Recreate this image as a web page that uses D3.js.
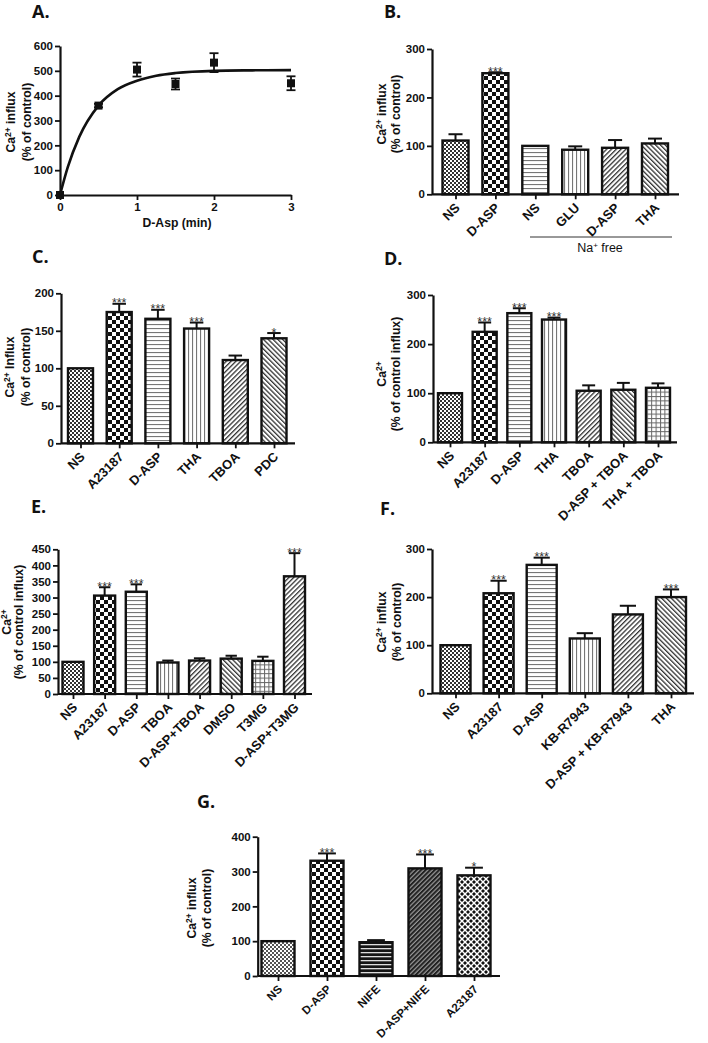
<!DOCTYPE html>
<html><head><meta charset="utf-8">
<script src="https://cdn.jsdelivr.net/npm/d3@7"></script>
<style>
body{margin:0;background:#fff;}
svg{display:block;}
text{font-family:"Liberation Sans",Arial,sans-serif;}
</style></head><body>
<svg id="fig" width="708" height="1043"></svg>
<script>
// ---------------- DATA ----------------
// Panel A: time course
const aTime   = [0, 0.5, 1, 1.5, 2, 3];
const aInflux = [0, 360, 505, 447, 533, 450];
const aSem    = [0, 7, 28, 22, 38, 28];
const aFitTime   = [0, 0.1, 0.25, 0.5, 0.75, 1, 1.25, 1.5, 2, 2.5, 3];
const aFitInflux = [0, 111, 234, 360, 426, 460, 480, 491, 500, 502, 503];
const aXTicks = [0, 1, 2, 3];
const aYTicks = [0, 100, 200, 300, 400, 500, 600];

// Panel B
const bCategories = ["NS", "D-ASP", "NS", "GLU", "D-ASP", "THA"];
const bValues = [111, 250, 100, 92, 96, 105];
const bSem    = [13, 2, 0, 7, 16, 10];
const bStars  = ["", "***", "", "", "", ""];
const bYTicks = [0, 100, 200, 300];

// Panel C
const cCategories = ["NS", "A23187", "D-ASP", "THA", "TBOA", "PDC"];
const cValues = [100, 175, 166, 153, 111, 140];
const cSem    = [0, 11, 12, 8, 6, 7];
const cStars  = ["", "***", "***", "***", "", "*"];
const cYTicks = [0, 50, 100, 150, 200];

// Panel D
const dCategories = ["NS", "A23187", "D-ASP", "THA", "TBOA", "D-ASP + TBOA", "THA + TBOA"];
const dValues = [100, 225, 263, 250, 105, 107, 111];
const dSem    = [0, 19, 10, 4, 11, 14, 9];
const dStars  = ["", "***", "***", "***", "", "", ""];
const dYTicks = [0, 100, 200, 300];

// Panel E
const eCategories = ["NS", "A23187", "D-ASP", "TBOA", "D-ASP+TBOA", "DMSO", "T3MG", "D-ASP+T3MG"];
const eValues = [100, 306, 318, 98, 104, 110, 103, 366];
const eSem    = [0, 26, 23, 6, 7, 9, 13, 72];
const eStars  = ["", "***", "***", "", "", "", "", "***"];
const eYTicks = [0, 50, 100, 150, 200, 250, 300, 350, 400, 450];

// Panel F
const fCategories = ["NS", "A23187", "D-ASP", "KB-R7943", "D-ASP + KB-R7943", "THA"];
const fValues = [100, 208, 267, 114, 164, 200];
const fSem    = [0, 26, 15, 11, 18, 16];
const fStars  = ["", "***", "***", "", "", "***"];
const fYTicks = [0, 100, 200, 300];

// Panel G
const gCategories = ["NS", "D-ASP", "NIFE", "D-ASP+NIFE", "A23187"];
const gValues = [100, 331, 97, 309, 289];
const gSem    = [0, 21, 6, 40, 22];
const gStars  = ["", "***", "", "***", "*"];
const gYTicks = [0, 100, 200, 300, 400];

// ---------------- DRAWING ----------------
const svg = d3.select("#fig");
const INK = "#111";
const TICK_FS = 11.5, CAT_FS = 13, LAB_FS = 12.2, STAR_FS = 12.5;
const defs = svg.append("defs");

function pat(id, w, h, rot) {
  const p = defs.append("pattern").attr("id", id).attr("patternUnits", "userSpaceOnUse")
    .attr("width", w).attr("height", h);
  if (rot) p.attr("patternTransform", `rotate(${rot})`);
  return p;
}
{ const p = pat("dots", 4, 4); p.append("rect").attr("width",4).attr("height",4).attr("fill","#fff");
  p.append("rect").attr("width",2).attr("height",2).attr("fill","#333");
  p.append("rect").attr("x",2).attr("y",2).attr("width",2).attr("height",2).attr("fill","#333"); }
{ const p = pat("dotsG", 4, 4); p.append("rect").attr("width",4).attr("height",4).attr("fill","#fff");
  p.append("rect").attr("width",2).attr("height",2).attr("fill","#555");
  p.append("rect").attr("x",2).attr("y",2).attr("width",2).attr("height",2).attr("fill","#555"); }
{ const p = pat("checker", 8, 8); p.append("rect").attr("width",8).attr("height",8).attr("fill","#fff");
  p.append("rect").attr("width",4).attr("height",4).attr("fill","#111");
  p.append("rect").attr("x",4).attr("y",4).attr("width",4).attr("height",4).attr("fill","#111"); }
{ const p = pat("hlines", 4, 4); p.append("rect").attr("width",4).attr("height",4).attr("fill","#fff");
  p.append("rect").attr("y",0).attr("width",4).attr("height",1.1).attr("fill","#777"); }
{ const p = pat("vlines", 4, 4); p.append("rect").attr("width",4).attr("height",4).attr("fill","#fff");
  p.append("rect").attr("x",0).attr("width",1.1).attr("height",4).attr("fill","#777"); }
{ const p = pat("diagF", 3.4, 3.4, 45); p.append("rect").attr("width",3.4).attr("height",3.4).attr("fill","#fff");
  p.append("rect").attr("width",1.3).attr("height",3.4).attr("fill","#333"); }
{ const p = pat("diagB", 3.4, 3.4, -45); p.append("rect").attr("width",3.4).attr("height",3.4).attr("fill","#fff");
  p.append("rect").attr("width",1.3).attr("height",3.4).attr("fill","#333"); }
{ const p = pat("grid", 4.4, 4.4); p.append("rect").attr("width",4.4).attr("height",4.4).attr("fill","#fff");
  p.append("rect").attr("width",4.4).attr("height",1).attr("fill","#666");
  p.append("rect").attr("width",1).attr("height",4.4).attr("fill","#666"); }
{ const p = pat("hlinesDark", 4, 4); p.append("rect").attr("width",4).attr("height",4).attr("fill","#151515");
  p.append("rect").attr("y",0).attr("width",4).attr("height",1.3).attr("fill","#ddd"); }
{ const p = pat("diagDark", 3.2, 3.2, 45); p.append("rect").attr("width",3.2).attr("height",3.2).attr("fill","#999");
  p.append("rect").attr("width",2).attr("height",3.2).attr("fill","#222"); }
{ const p = pat("diamond", 6, 6); p.append("rect").attr("width",6).attr("height",6).attr("fill","#fff");
  const dia = (cx, cy) => p.append("path").attr("d", `M${cx},${cy-2}L${cx+2},${cy}L${cx},${cy+2}L${cx-2},${cy}Z`).attr("fill","#111");
  dia(0,0); dia(6,0); dia(0,6); dia(6,6); dia(3,3); }

function panelLetter(txt, x, y) {
  svg.append("text").attr("x", x).attr("y", y).text(txt)
    .style("font-family", "'Open Sans', 'Liberation Sans', sans-serif")
    .attr("font-size", 18).attr("font-weight", 700).attr("fill", INK);
}

function yLabel(g, spec) {
  const t1 = g.append("text").attr("transform", `translate(${spec.x1},${spec.cy}) rotate(-90)`)
    .attr("text-anchor", "middle").attr("font-size", LAB_FS).attr("font-weight", 700).attr("fill", INK);
  t1.append("tspan").text(spec.l1[0]);
  t1.append("tspan").attr("dy", -4.5).attr("font-size", 8.5).text(spec.l1[1]);
  if (spec.l1[2]) t1.append("tspan").attr("dy", 4.5).text(spec.l1[2]);
  g.append("text").attr("transform", `translate(${spec.x2},${spec.cy}) rotate(-90)`)
    .attr("text-anchor", "middle").attr("font-size", LAB_FS).attr("font-weight", 700).attr("fill", INK)
    .text(spec.l2);
}

function styleAxis(sel) {
  sel.select(".domain").attr("stroke", INK).attr("stroke-width", 2.2);
  sel.selectAll(".tick line").attr("stroke", INK).attr("stroke-width", 1.8);
  sel.selectAll(".tick text").attr("fill", INK).attr("font-size", TICK_FS).attr("font-weight", 700)
    .style("font-family", "'Liberation Sans', Arial, sans-serif");
}

function barPanel(cfg, cats, values, sem, stars) {
  const g = svg.append("g");
  const y = d3.scaleLinear().domain([0, cfg.max]).range([cfg.y0, cfg.yTop]);
  const x = d3.scalePoint().domain(d3.range(cats.length)).range([cfg.c0, cfg.c1]);
  const bw = cfg.bw;

  const cap = bw * 0.27;
  const eb = g.append("g").attr("stroke", INK).attr("stroke-width", 2);
  values.forEach((v, i) => {
    if (!sem[i]) return;
    const cx = x(i), top = y(v + sem[i]);
    eb.append("line").attr("x1", cx).attr("x2", cx).attr("y1", y(v)).attr("y2", top);
    eb.append("line").attr("x1", cx - cap).attr("x2", cx + cap).attr("y1", top).attr("y2", top);
  });
  g.selectAll("rect.bar").data(values).join("rect").attr("class", "bar")
    .attr("x", (d, i) => x(i) - bw / 2).attr("y", d => y(d))
    .attr("width", bw).attr("height", d => y(0) - y(d))
    .attr("fill", (d, i) => `url(#${cfg.patterns[i]})`)
    .attr("stroke", INK).attr("stroke-width", 2.4);
  g.selectAll("text.star").data(values).join("text").attr("class", "star")
    .attr("x", (d, i) => x(i)).attr("y", (d, i) => y(d + sem[i]) + 3.5)
    .attr("text-anchor", "middle").attr("font-size", STAR_FS).attr("fill", "#333")
    .text((d, i) => stars[i]);

  const ya = g.append("g").attr("transform", `translate(${cfg.x0},0)`)
    .call(d3.axisLeft(y).tickValues(cfg.ticks).tickSize(5).tickPadding(2).tickSizeOuter(0).tickFormat(d3.format("d")));
  styleAxis(ya);
  const xa = g.append("g").attr("transform", `translate(0,${cfg.y0})`)
    .call(d3.axisBottom(x).tickSize(5).tickSizeOuter(0).tickFormat(""));
  xa.select(".domain").attr("d", `M${cfg.x0},0H${cfg.x1}`);
  styleAxis(xa);
  const catFs = cfg.catFs || CAT_FS;
  g.selectAll("text.cat").data(cats).join("text").attr("class", "cat")
    .attr("transform", (d, i) => `translate(${x(i) + 2},${cfg.y0 + 11}) rotate(-45)`)
    .attr("text-anchor", "end").attr("dy", "0.35em")
    .attr("font-size", catFs).attr("font-weight", 700).attr("fill", INK)
    .text(d => d);

  yLabel(g, cfg.ylab);
  return { g, x, y };
}

// ---- Panel A ----
panelLetter("A.", 32, 18);
{
  const g = svg.append("g");
  const x = d3.scaleLinear().domain([0, 3]).range([60, 291]);
  const y = d3.scaleLinear().domain([0, 600]).range([195, 46]);
  const line = d3.line().x((d, i) => x(aFitTime[i])).y(d => y(d)).curve(d3.curveMonotoneX);
  g.append("path").attr("d", line(aFitInflux)).attr("fill", "none").attr("stroke", INK).attr("stroke-width", 2.6);
  const eb = g.append("g").attr("stroke", INK).attr("stroke-width", 1.8);
  aTime.forEach((t, i) => {
    if (!aSem[i]) return;
    const cx = x(t);
    eb.append("line").attr("x1", cx).attr("x2", cx).attr("y1", y(aInflux[i] - aSem[i])).attr("y2", y(aInflux[i] + aSem[i]));
    [aInflux[i] - aSem[i], aInflux[i] + aSem[i]].forEach(v =>
      eb.append("line").attr("x1", cx - 4.5).attr("x2", cx + 4.5).attr("y1", y(v)).attr("y2", y(v)));
  });
  g.selectAll("rect.pt").data(aInflux).join("rect").attr("class", "pt")
    .attr("x", (d, i) => x(aTime[i]) - 4).attr("y", d => y(d) - 4)
    .attr("width", 8).attr("height", 8).attr("fill", INK);
  const ya = g.append("g").attr("transform", "translate(60,0)")
    .call(d3.axisLeft(y).tickValues(aYTicks).tickSize(5).tickPadding(2).tickSizeOuter(0));
  styleAxis(ya);
  const xa = g.append("g").attr("transform", "translate(0,195)")
    .call(d3.axisBottom(x).tickValues(aXTicks).tickSize(5).tickPadding(3).tickSizeOuter(0).tickFormat(d3.format("d")));
  styleAxis(xa);
  g.append("text").attr("x", 177).attr("y", 227).attr("text-anchor", "middle")
    .attr("font-size", LAB_FS).attr("font-weight", 700).attr("fill", INK).text("D-Asp (min)");
  yLabel(g, { x1: 15, x2: 31, cy: 122, l1: ["Ca", "2+", " influx"], l2: "(% of control)" });
}

// ---- Panel B ----
panelLetter("B.", 384, 18);
{
  const p = barPanel({ x0: 432, x1: 679, y0: 194.3, yTop: 49, max: 300, ticks: bYTicks,
    c0: 455.5, c1: 655, bw: 26,
    patterns: ["dots", "checker", "hlines", "vlines", "diagF", "diagB"],
    ylab: { x1: 386, x2: 400, cy: 114, l1: ["Ca", "2+", " influx"], l2: "(% of control)" } },
    bCategories, bValues, bSem, bStars);
  p.g.append("line").attr("x1", 530).attr("x2", 672).attr("y1", 237).attr("y2", 237)
    .attr("stroke", "#333").attr("stroke-width", 1);
  const t = p.g.append("text").attr("x", 600).attr("y", 252).attr("text-anchor", "middle")
    .attr("font-size", 12.5).attr("fill", INK);
  t.append("tspan").text("Na");
  t.append("tspan").attr("dy", -4.5).attr("font-size", 8).text("+");
  t.append("tspan").attr("dy", 4.5).text(" free");
}

// ---- Panel C ----
panelLetter("C.", 32, 263);
barPanel({ x0: 61, x1: 295, y0: 443.3, yTop: 293.3, max: 200, ticks: cYTicks,
  c0: 80.5, c1: 274, bw: 25,
  patterns: ["dots", "checker", "hlines", "vlines", "diagF", "diagB"],
  ylab: { x1: 14, x2: 30, cy: 367, l1: ["Ca", "2+", " Influx"], l2: "(% of control)" } },
  cCategories, cValues, cSem, cStars);

// ---- Panel D ----
panelLetter("D.", 384, 265);
barPanel({ x0: 433, x1: 677, y0: 442.3, yTop: 295, max: 300, ticks: dYTicks,
  c0: 450, c1: 658, bw: 24,
  patterns: ["dots", "checker", "hlines", "vlines", "diagF", "diagB", "grid"],
  ylab: { x1: 386, x2: 400, cy: 374, l1: ["Ca", "2+", ""], l2: "(% of control influx)" } },
  dCategories, dValues, dSem, dStars);

// ---- Panel E ----
panelLetter("E.", 31, 513);
barPanel({ x0: 58, x1: 312, y0: 694, yTop: 549.3, max: 450, ticks: eYTicks,
  c0: 73, c1: 294.5, bw: 21,
  patterns: ["dots", "checker", "hlines", "vlines", "diagF", "diagB", "grid", "diagF"],
  ylab: { x1: 11, x2: 23, cy: 622, l1: ["Ca", "2+", ""], l2: "(% of control influx)" } },
  eCategories, eValues, eSem, eStars);

// ---- Panel F ----
panelLetter("F.", 380, 515);
barPanel({ x0: 432, x1: 694, y0: 693.3, yTop: 549, max: 300, ticks: fYTicks,
  c0: 455.5, c1: 671, bw: 30,
  patterns: ["dots", "checker", "hlines", "vlines", "diagF", "diagB"],
  ylab: { x1: 386, x2: 401, cy: 622, l1: ["Ca", "2+", " influx"], l2: "(% of control)" } },
  fCategories, fValues, fSem, fStars);

// ---- Panel G ----
panelLetter("G.", 197, 808);
barPanel({ x0: 257.7, x1: 500, y0: 976, yTop: 836.7, max: 400, ticks: gYTicks,
  c0: 278, c1: 474, bw: 33, catFs: 11.5,
  patterns: ["dotsG", "checker", "hlinesDark", "diagDark", "diamond"],
  ylab: { x1: 196, x2: 211, cy: 908, l1: ["Ca", "2+", " influx"], l2: "(% of control)" } },
  gCategories, gValues, gSem, gStars);
</script>
</body></html>
